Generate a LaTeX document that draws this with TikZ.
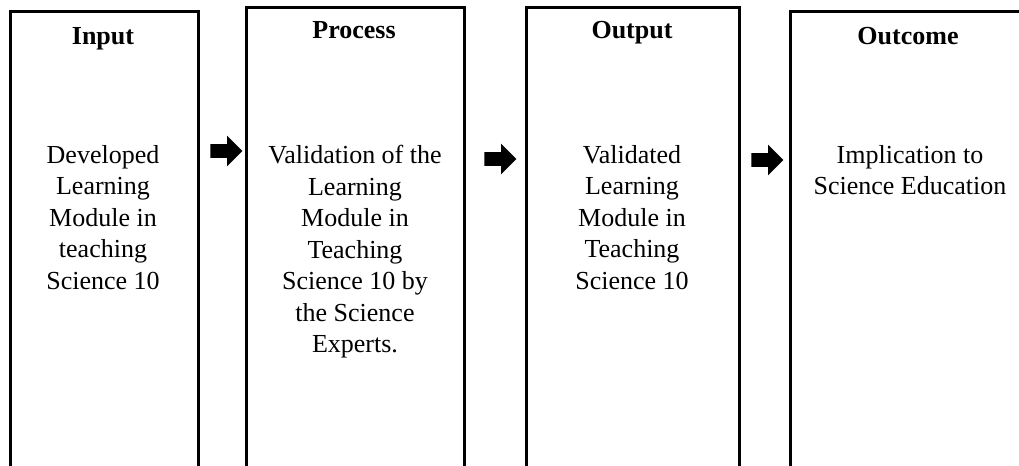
\documentclass[tikz,border=0pt]{standalone}
\usepackage{fontspec}
\setmainfont{Liberation Serif}
\usetikzlibrary{shapes.arrows}

\tikzset{
  stage/.style={draw,line width=1.3pt,anchor=north west,inner sep=0pt},
  head/.style={font=\fontsize{13}{15.75}\selectfont\bfseries,anchor=base,inner sep=0pt},
  body/.style={font=\fontsize{13}{15.75}\selectfont,align=center,anchor=north,inner sep=0pt},
  flow/.style={single arrow,fill=black,inner xsep=0pt,inner ysep=3.25pt,minimum height=16pt,
    single arrow head extend=4.25pt,single arrow tip angle=90}
}

\begin{document}
\begin{tikzpicture}[x=0.5pt,y=-0.5pt]
          \useasboundingbox (0,0) rectangle (1019,466);
          \clip (0,0) rectangle (1019,466);

          % the four stages
          \node[stage,minimum width=94pt,minimum height=240pt] (input) at (9,10) {};
          \node[stage,minimum width=109pt,minimum height=242pt] (process) at (245,6) {};
          \node[stage,minimum width=106.5pt,minimum height=242pt] (output) at (525,6) {};
          \node[stage,minimum width=119pt,minimum height=240pt] (outcome) at (789,10) {};

          \node[head] (input-t) at (103,45) {Input};
          \node[head] (process-t) at (354,39) {Process};
          \node[head] (output-t) at (632,39) {Output};
          \node[head] (outcome-t) at (908,45) {Outcome};

          \node[body] (input-b) at (103,145) {Developed\\Learning\\Module in\\teaching\\Science 10};
          \node[body] (process-b) at (355,145) {Validation of the\\Learning\\Module in\\Teaching\\Science 10 by\\the Science\\Experts.};
          \node[body] (output-b) at (632,145) {Validated\\Learning\\Module in\\Teaching\\Science 10};
          \node[body] (outcome-b) at (910,145) {Implication to\\Science Education};

          % block arrows
          \node[flow] (a1) at (223,151) {};
          \node[flow] (a2) at (497,159) {};
          \node[flow] (a3) at (764,160) {};
\end{tikzpicture}
\end{document}
